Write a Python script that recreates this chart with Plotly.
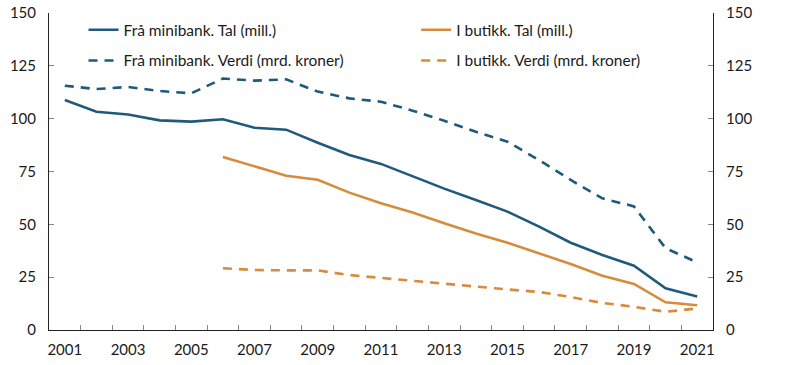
import plotly.graph_objects as go

years = list(range(2001, 2022))
years_butikk = list(range(2006, 2022))

minibank_tal = [108.8, 103.3, 102.0, 99.2, 98.6, 99.7, 95.7, 94.8, 88.6, 82.8, 78.6,
                72.7, 66.9, 61.5, 56.0, 48.9, 41.3, 35.5, 30.4, 19.7, 15.8]
minibank_verdi = [115.6, 114.0, 115.0, 113.1, 112.0, 119.0, 118.0, 118.6, 112.8, 109.6, 108.0,
                  103.8, 99.0, 93.8, 89.1, 80.4, 71.0, 62.3, 58.5, 38.7, 32.0]
butikk_tal = [81.9, 77.6, 73.0, 71.1, 65.0, 60.0, 55.6, 50.5, 45.7, 41.3, 36.3,
              31.2, 25.7, 21.8, 13.1, 11.7]
butikk_verdi = [29.2, 28.4, 28.2, 28.2, 26.0, 24.6, 23.3, 21.8, 20.3, 19.2, 18.0,
                15.6, 12.8, 11.0, 8.6, 10.2]

names = ["Frå minibank. Tal (mill.)", "I butikk. Tal (mill.)",
         "Frå minibank. Verdi (mrd. kroner)", "I butikk. Verdi (mrd. kroner)"]
label_years = years[::2]
y_ticks = [0, 25, 50, 75, 100, 125, 150]

BLUE = "#1f5a7c"
ORANGE = "#d88b3b"
FONT = "Lato"
DASH = "9px,7px"
TXT = "#1a1a1a"

fig = go.Figure()
fig.add_trace(go.Scatter(x=years, y=minibank_tal, name=names[0], mode="lines",
                         line=dict(color=BLUE, width=2.6), legend="legend", showlegend=True))
fig.add_trace(go.Scatter(x=years_butikk, y=butikk_tal, name=names[1], mode="lines",
                         line=dict(color=ORANGE, width=2.6), legend="legend2", showlegend=True))
fig.add_trace(go.Scatter(x=years, y=minibank_verdi, name=names[2], mode="lines",
                         line=dict(color=BLUE, width=2.6, dash=DASH), legend="legend3",
                         yaxis="y2", showlegend=True))
fig.add_trace(go.Scatter(x=years_butikk, y=butikk_verdi, name=names[3], mode="lines",
                         line=dict(color=ORANGE, width=2.6, dash=DASH), legend="legend4",
                         yaxis="y2", showlegend=True))

leg_common = dict(bgcolor="rgba(0,0,0,0)", font=dict(family=FONT, size=15.5, color=TXT),
                  xanchor="left", yanchor="middle", xref="paper", yref="paper",
                  visible=True)
axis_common = dict(range=[0, 150], tickmode="array", tickvals=y_ticks,
                   ticks="inside", ticklen=5, tickcolor="#888",
                   showgrid=False, zeroline=False,
                   showline=True, linecolor="#222", linewidth=1,
                   ticklabelstandoff=9, ticklabeloverflow="allow",
                   tickfont=dict(family=FONT, size=15, color=TXT))
fig.update_layout(
    width=797, height=365,
    showlegend=True,
    margin=dict(l=49, r=84, t=13, b=35, autoexpand=False),
    paper_bgcolor="white", plot_bgcolor="white",
    font=dict(family=FONT, size=15, color=TXT),
    legend=dict(x=0.052, y=0.946, **leg_common),
    legend2=dict(x=0.553, y=0.946, **leg_common),
    legend3=dict(x=0.052, y=0.849, **leg_common),
    legend4=dict(x=0.553, y=0.849, **leg_common),
    xaxis=dict(range=[years[0] - 0.5, years[-1] + 0.5], tickmode="array",
               tickvals=label_years, ticktext=[str(y) for y in label_years],
               ticks="", showgrid=False, zeroline=False,
               showline=True, linecolor="#222", linewidth=1,
               ticklabelstandoff=6, ticklabeloverflow="allow",
               tickfont=dict(family=FONT, size=15, color=TXT),
               minor=dict(tickmode="array", tickvals=[y + 0.5 for y in years[:-1]],
                          ticks="inside", ticklen=5, tickcolor="#888", showgrid=False)),
    yaxis=dict(**axis_common),
    yaxis2=dict(overlaying="y", side="right", **axis_common),
)

fig.write_html("out.html", config={"displayModeBar": False},
               post_script="document.body.style.margin='0';")
